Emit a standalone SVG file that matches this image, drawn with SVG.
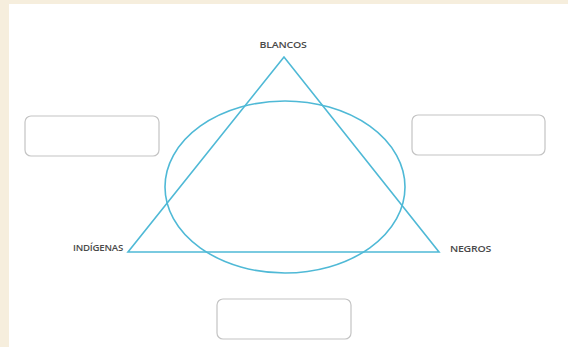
<svg xmlns="http://www.w3.org/2000/svg" width="568" height="347" viewBox="0 0 568 347">
<style>
.lbl{font-family:"Open Sans","Liberation Sans",sans-serif;font-size:9px;font-weight:600;fill:#4a4a4a;letter-spacing:-0.2px}
.box{fill:#fff;stroke:#c4c4c4;stroke-width:1.2}
.line{fill:none;stroke:#4fb9d6;stroke-width:1.6}
</style>
<rect x="0" y="0" width="568" height="347" fill="#f6eedd"/>
<rect x="9" y="4" width="559" height="343" fill="#fff"/>
<g id="connectors">
<polygon class="line" points="284,57 128,252 439,252"/>
<ellipse class="line" cx="285" cy="187" rx="120" ry="86"/>
</g>
<g id="blancos"><text class="lbl" x="283" y="48" text-anchor="middle" textLength="47" lengthAdjust="spacingAndGlyphs">BLANCOS</text></g>
<g id="indigenas"><text class="lbl" x="73" y="251" textLength="50" lengthAdjust="spacingAndGlyphs">INDÍGENAS</text></g>
<g id="negros"><text class="lbl" x="450" y="252" textLength="41" lengthAdjust="spacingAndGlyphs">NEGROS</text></g>
<g id="box-left"><rect class="box" x="25" y="116" width="134" height="40" rx="6"/></g>
<g id="box-right"><rect class="box" x="412" y="115" width="133" height="40" rx="6"/></g>
<g id="box-bottom"><rect class="box" x="217" y="299" width="134" height="40" rx="6"/></g>
</svg>
